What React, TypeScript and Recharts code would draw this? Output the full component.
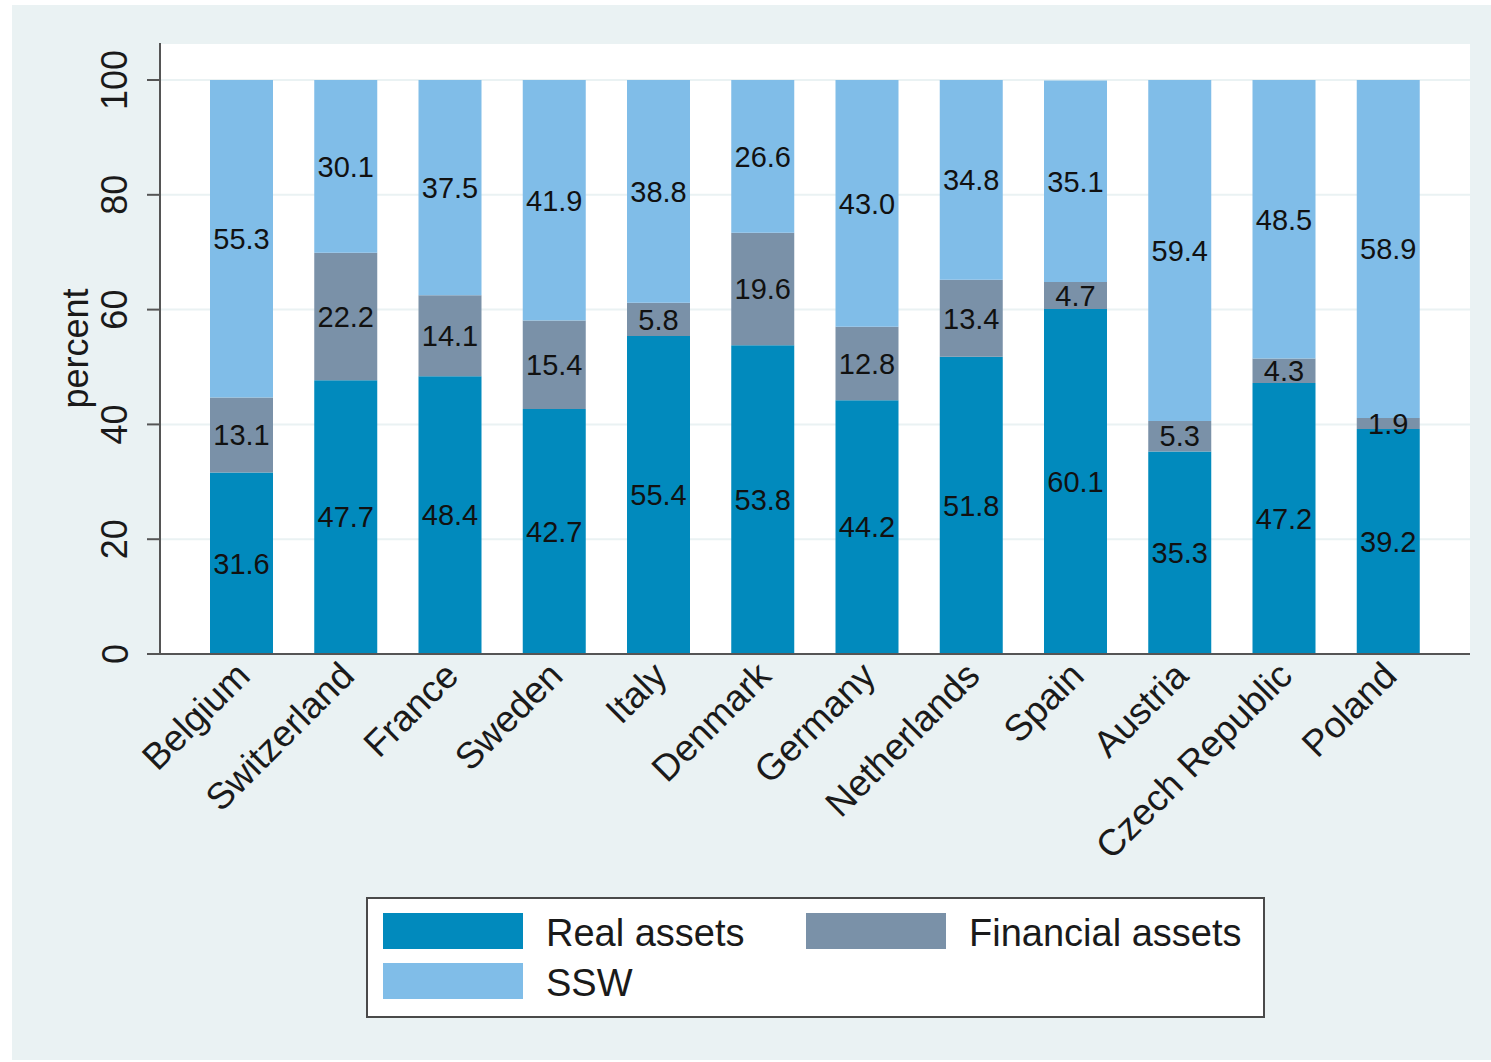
import React from 'react';
import { BarChart, Bar, XAxis, YAxis, CartesianGrid, LabelList, Legend } from 'recharts';

const countries = ['Belgium', 'Switzerland', 'France', 'Sweden', 'Italy', 'Denmark', 'Germany', 'Netherlands', 'Spain', 'Austria', 'Czech Republic', 'Poland'];
const realAssets = [31.6, 47.7, 48.4, 42.7, 55.4, 53.8, 44.2, 51.8, 60.1, 35.3, 47.2, 39.2];
const financialAssets = [13.1, 22.2, 14.1, 15.4, 5.8, 19.6, 12.8, 13.4, 4.7, 5.3, 4.3, 1.9];
const ssw = [55.3, 30.1, 37.5, 41.9, 38.8, 26.6, 43.0, 34.8, 35.1, 59.4, 48.5, 58.9];
const yTicks = [0, 20, 40, 60, 80, 100];

const data = countries.map((c, i) => ({
  country: c,
  real: realAssets[i],
  financial: financialAssets[i],
  ssw: ssw[i],
}));

const FONT = 'Arial, "Liberation Sans", Helvetica, sans-serif';
const C_REAL = '#018abd';
const C_FIN = '#7a91a8';
const C_SSW = '#80bde8';
const BG = '#eaf2f3';

const XTick = (props: any) => {
  const { x, y, payload } = props;
  const ax = x + 2;
  const ay = y + 15;
  return (
    <text x={ax} y={ay} transform={`rotate(-45, ${ax}, ${ay})`} textAnchor="end" dominantBaseline="central" fontSize={37} fill="#1a1a1a" fontFamily={FONT}>
      {payload.value}
    </text>
  );
};

const YTick = (props: any) => {
  const { x, y, payload } = props;
  return (
    <text x={x} y={y} transform={`rotate(-90, ${x}, ${y})`} textAnchor="middle" dominantBaseline="central" fontSize={36} fill="#1a1a1a" fontFamily={FONT}>
      {payload.value}
    </text>
  );
};

const LegendBox = (props: any) => {
  const payload: any[] = props.payload || [];
  const find = (k: string) => payload.find((p) => p.dataKey === k) || { value: k, color: '#000' };
  const items = [
    { e: find('real'), left: 17, top: 16 },
    { e: find('financial'), left: 440, top: 16 },
    { e: find('ssw'), left: 17, top: 66 },
  ];
  return (
    <div style={{ position: 'relative', width: 899, height: 121, background: '#fff', border: '2px solid #4a4a4a', boxSizing: 'border-box' }}>
      {items.map((it, i) => (
        <React.Fragment key={i}>
          <div style={{ position: 'absolute', left: it.left - 2, top: it.top - 2, width: 140, height: 36, background: it.e.color }} />
          <div style={{ position: 'absolute', left: it.left + 161, top: it.top, height: 36, lineHeight: '36px', fontSize: 38, fontFamily: FONT, color: '#1a1a1a', whiteSpace: 'nowrap' }}>
            {it.e.value}
          </div>
        </React.Fragment>
      ))}
    </div>
  );
};

const fmt = (v: any) => Number(v).toFixed(1);

export default function App() {
  return (
    <div style={{ position: 'absolute', left: 0, top: 0, width: 1491, height: 1062, background: '#fff' }}>
      <div style={{ position: 'absolute', left: 12, top: 5 }}>
        <BarChart
          width={1479}
          height={1055}
          data={data}
          margin={{ top: 38, right: 21, bottom: 0, left: 0 }}
          style={{ background: BG }}
        >
          <CartesianGrid vertical={false} stroke={BG} strokeWidth={2} fill="#fff" />
          <XAxis
            dataKey="country"
            interval={0}
            height={406}
            tickLine={false}
            tickSize={0}
            tickMargin={0}
            padding={{ left: 29, right: 30 }}
            axisLine={{ stroke: '#555', strokeWidth: 2 }}
            tick={<XTick />}
          />
          <YAxis
            width={148}
            domain={[0, 106.45]}
            ticks={yTicks}
            allowDataOverflow
            tickSize={13}
            tickMargin={32}
            axisLine={{ stroke: '#555', strokeWidth: 2 }}
            tickLine={{ stroke: '#555', strokeWidth: 2 }}
            tick={<YTick />}
            label={{
              content: (p: any) => {
                const vb = p.viewBox || { x: 0, y: 38, width: 148, height: 611 };
                const cx = vb.x + 63;
                const cy = vb.y + vb.height / 2;
                return (
                  <text x={cx} y={cy} transform={`rotate(-90, ${cx}, ${cy})`} textAnchor="middle" dominantBaseline="central" fontSize={36} fill="#1a1a1a" fontFamily={FONT}>
                    percent
                  </text>
                );
              },
            }}
          />
          <Legend
            layout="horizontal"
            verticalAlign="middle"
            align="center"
            wrapperStyle={{ position: 'absolute', left: 354, top: 892, width: 899, height: 121 }}
            content={<LegendBox />}
          />
          <Bar dataKey="real" name="Real assets" stackId="a" fill={C_REAL} barSize={63} isAnimationActive={false}>
            <LabelList dataKey="real" position="center" formatter={fmt} fontSize={29} fill="#111" fontFamily={FONT} />
          </Bar>
          <Bar dataKey="financial" name="Financial assets" stackId="a" fill={C_FIN} barSize={63} isAnimationActive={false}>
            <LabelList dataKey="financial" position="center" formatter={fmt} fontSize={29} fill="#111" fontFamily={FONT} />
          </Bar>
          <Bar dataKey="ssw" name="SSW" stackId="a" fill={C_SSW} barSize={63} isAnimationActive={false}>
            <LabelList dataKey="ssw" position="center" formatter={fmt} fontSize={29} fill="#111" fontFamily={FONT} />
          </Bar>
        </BarChart>
      </div>
    </div>
  );
}
